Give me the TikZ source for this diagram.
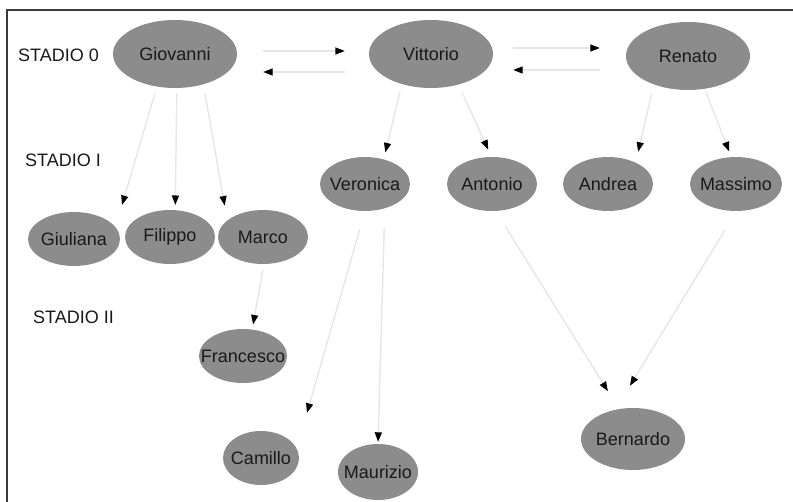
\documentclass[tikz,border=0pt]{standalone}
\usepackage{fontspec}
\setmainfont{Liberation Sans}
\usepackage{tikz}
\usetikzlibrary{shapes.geometric,arrows.meta}

\definecolor{nodegray}{HTML}{8C8C8C}
\definecolor{linegray}{HTML}{E6E6E6}
\definecolor{framegray}{HTML}{3A3A3A}

\begin{document}
\begin{tikzpicture}[x=1pt,y=-1pt,
    person/.style={ellipse, fill=nodegray, inner xsep=-30pt, inner ysep=0pt, text=black!90,
        font=\fontsize{18}{21}\selectfont},
    stage/.style={anchor=west, inner sep=0pt, text=black!90, font=\fontsize{18}{21}\selectfont},
    arr/.style={draw=linegray, line width=1.4pt,
        -{Triangle[black,length=9.5pt,width=7pt]}}]
            \useasboundingbox (0,0) rectangle (793,502);
            \draw[framegray, line width=2pt] (7,502) |- (793,10.5);

            % stadio 0
            \node[person, minimum width=124pt, minimum height=68pt] (giovanni) at (175,54) {Giovanni};
            \node[person, minimum width=124pt, minimum height=68pt] (vittorio) at (431,54) {Vittorio};
            \node[person, minimum width=124pt, minimum height=68pt] (renato) at (688,56) {Renato};

            % stadio I
            \node[person, minimum width=90pt, minimum height=54pt] (veronica) at (365,184) {Veronica};
            \node[person, minimum width=90pt, minimum height=54pt] (antonio) at (492,184) {Antonio};
            \node[person, minimum width=90pt, minimum height=54pt] (andrea) at (608,184) {Andrea};
            \node[person, minimum width=92pt, minimum height=54pt] (massimo) at (736,184) {Massimo};
            \node[person, minimum width=92pt, minimum height=54pt] (giuliana) at (74,239) {Giuliana};
            \node[person, minimum width=90pt, minimum height=54pt] (filippo) at (170,237) {Filippo};
            \node[person, minimum width=90pt, minimum height=54pt] (marco) at (263,237) {Marco};

            % stadio II
            \node[person, minimum width=88pt, minimum height=54pt] (francesco) at (243,356) {Francesco};
            \node[person, minimum width=76pt, minimum height=54pt] (camillo) at (261,458) {Camillo};
            \node[person, minimum width=80pt, minimum height=56pt] (maurizio) at (378,472) {Maurizio};
            \node[person, minimum width=104pt, minimum height=62pt] (bernardo) at (633,439) {Bernardo};

            \node[stage] (st0) at (18,55) {STADIO 0};
            \node[stage] (st1) at (25,160) {STADIO I};
            \node[stage] (st2) at (33,317) {STADIO II};

            \draw[arr, shorten <=26pt, shorten >=24pt] ([yshift=3pt]giovanni.east) -- ([yshift=3pt]giovanni.east -| vittorio.west);
            \draw[arr, shorten <=24pt, shorten >=26pt] ([yshift=-18pt]vittorio.west) -- ([yshift=-18pt]vittorio.west -| giovanni.east);
            \draw[arr, shorten <=20pt, shorten >=26pt] ([yshift=6pt]vittorio.east) -- ([yshift=6pt]vittorio.east -| renato.west);
            \draw[arr, shorten <=26pt, shorten >=20pt] ([yshift=-16pt]vittorio.east -| renato.west) -- ([yshift=-16pt]vittorio.east);

            \draw[arr, shorten <=7pt, shorten >=23pt] (giovanni.241) -- (giuliana.16);
            \draw[arr, shorten <=5pt, shorten >=5pt] (giovanni.273) -- (filippo.79);
            \draw[arr, shorten <=9pt, shorten >=15pt] (giovanni.313) -- (marco.155);
            \draw[arr, shorten <=8pt, shorten >=7pt] (vittorio.226) -- (veronica.53);
            \draw[arr, shorten <=9pt, shorten >=8pt] (vittorio.312) -- (antonio.91);
            \draw[arr, shorten <=9pt, shorten >=11pt] (renato.220) -- (andrea.38);
            \draw[arr, shorten <=3pt, shorten >=6pt] (renato.297) -- (massimo.100);
            \draw[arr, shorten <=6pt, shorten >=5pt] (marco.272) -- (francesco.71);
            \draw[arr, shorten <=19pt, shorten >=37pt] (veronica.270) -- (camillo.15);
            \draw[arr, shorten <=20pt, shorten >=2pt] (veronica.309) -- (maurizio.90);
            \draw[arr, shorten <=18pt, shorten >=21pt] (antonio.278) -- (bernardo.115);
            \draw[arr, shorten <=22pt, shorten >=28pt] (massimo.271) -- (bernardo.121);
        \end{tikzpicture}
\end{document}
